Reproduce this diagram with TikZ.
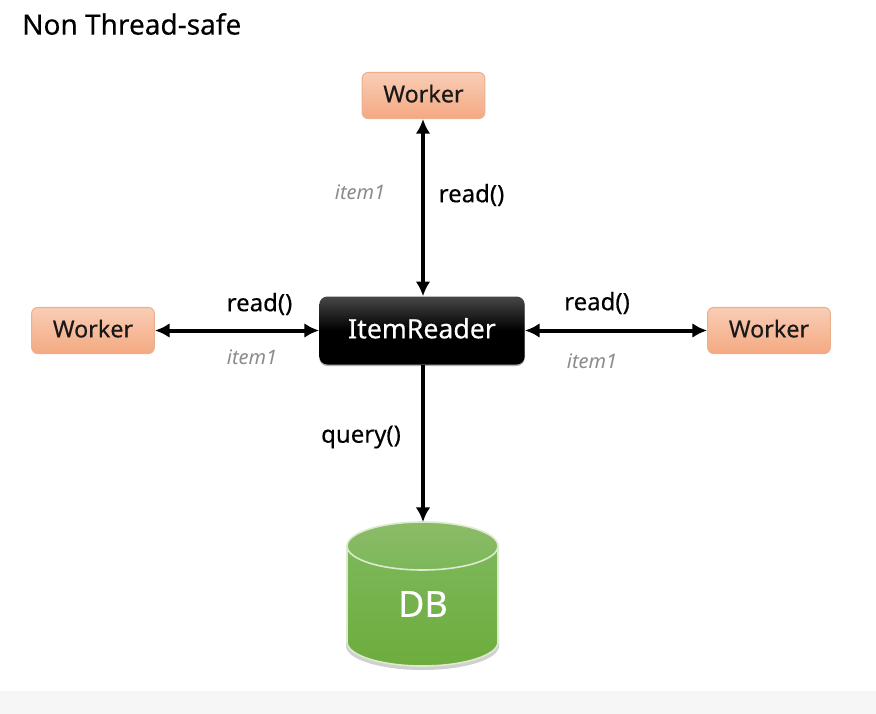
\documentclass[tikz,border=0pt]{standalone}
\usepackage{fontspec}
\setmainfont{Noto Sans}
\newfontfamily\medf[FakeBold=0.35]{Noto Sans}
\usetikzlibrary{arrows.meta,shadows,calc}
\definecolor{wtop}{HTML}{F9CDB6}
\definecolor{wbot}{HTML}{F4A981}
\definecolor{wedge}{HTML}{EDB08C}
\definecolor{gtop}{HTML}{8CBB68}
\definecolor{gmid}{HTML}{7DB85A}
\definecolor{gbot}{HTML}{6DAC3D}
\definecolor{gedge}{HTML}{DCEBD0}
\definecolor{itemgray}{HTML}{8C8C8C}
\tikzset{
  x=0.75pt,y=-0.75pt,
  workerbox/.style={draw=wedge,line width=0.8pt,rounded corners=4.5pt,top color=wtop,bottom color=wbot,
    minimum width=92pt,minimum height=34.5pt,inner sep=0pt,text depth=3pt,font=\medf\fontsize{17.5}{20}\selectfont,text=black!90},
  readerbox/.style={rounded corners=6pt,top color=black!72,bottom color=black,middle color=black,
    minimum width=154pt,minimum height=51pt,inner sep=0pt,text depth=3.5pt,text=white,font=\medf\fontsize{20}{24}\selectfont,
    drop shadow={shadow xshift=0pt,shadow yshift=-1.2pt,fill=black,opacity=0.3}},
  link/.style={line width=3pt,-{Latex[length=11pt,width=11pt]}},
  dlink/.style={line width=3pt,{Latex[length=11pt,width=11pt]}-{Latex[length=11pt,width=11pt]}},
  calltext/.style={font=\medf\fontsize{18}{21}\selectfont,text=black,inner sep=0pt},
  itemtext/.style={font=\fontsize{15}{18}\itshape\selectfont,text=itemgray,inner sep=0pt},
}
\begin{document}
\begin{tikzpicture}
\useasboundingbox (0,0) rectangle (876,714);
\fill[white] (0,0) rectangle (876,714);
\fill[black!3.5] (0,691) rectangle (876,714);
\node[anchor=west,inner sep=0pt,font=\medf\fontsize{21}{25}\selectfont] (title) at (22,24) {Non Thread-safe};
\node[workerbox] (wt) at (423.5,95.5) {Worker};
\node[workerbox] (wl) at (93,330.5) {Worker};
\node[workerbox] (wr) at (769,330.5) {Worker};
\node[readerbox] (ir) at (422,330.5) {ItemReader};
% database cylinder
\fill[black!60,opacity=.3] (346,625) -- (346,646) arc[start angle=180,end angle=0,x radius=76.5,y radius=24] -- (499,625) -- cycle;
\path[top color=gmid,bottom color=gbot,draw=gedge,line width=1.2pt]
  (347,546) -- (347,642) arc[start angle=180,end angle=0,x radius=75.5,y radius=24] -- (498,546) -- cycle;
\path[top color=gtop,bottom color=gmid,draw=gedge,line width=1.2pt]
  (422.5,546) ellipse[x radius=75.5,y radius=24];
\node[inner sep=0pt,minimum width=114pt,minimum height=109pt] (db) at (422.5,595) {};
\node[inner sep=0pt,text=white,font=\medf\fontsize{27}{32}\selectfont] (dblabel) at (423,604) {DB};
\draw[dlink] (wt.south -| ir.north) ++(1,0) coordinate (ta) (ta) -- (ta |- ir.north);
\draw[dlink] (wl.east) -- (ir.west);
\draw[dlink] (ir.east) -- (wr.west);
\draw[link] (ir.south -| ta) -- (db.north -| ta);
\node[calltext] (r1) at (471.5,195) {read()};
\node[calltext] (r2) at (259.5,304) {read()};
\node[calltext] (r3) at (597,303) {read()};
\node[calltext] (q) at (361,437) {query()};
\node[itemtext] (i1) at (360,192) {item1};
\node[itemtext] (i2) at (252,357) {item1};
\node[itemtext] (i3) at (592,361) {item1};
\end{tikzpicture}
\end{document}
